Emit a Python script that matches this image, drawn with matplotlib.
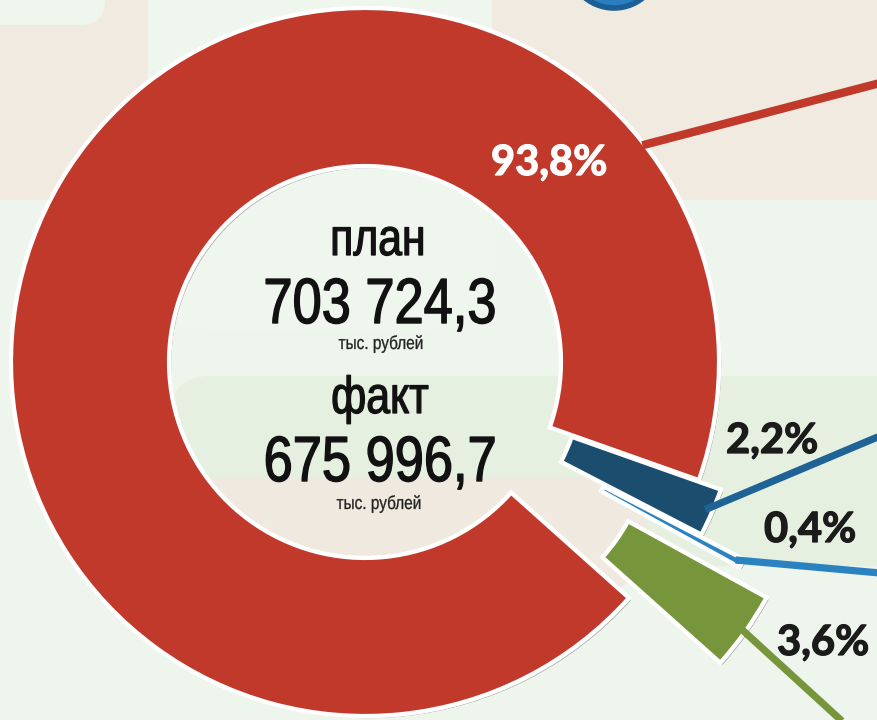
import matplotlib
matplotlib.use('Agg')
import matplotlib.pyplot as plt
import matplotlib.patches as patches
import matplotlib.patheffects as pe
from matplotlib import font_manager
from matplotlib.transforms import Affine2D
import numpy as np

# shares of the total, %
shares = [93.8, 2.2, 0.4, 3.6]
share_labels = ['93,8%', '2,2%', '0,4%', '3,6%']
colors = ['#c0392b', '#1b4d6e', '#2b82c0', '#77963c']
line_colors = ['#c0392b', '#1f6396', '#2b82c0', '#77963c']
label_colors = ['white', '#1b1b1b', '#1b1b1b', '#1b1b1b']

plan_title = 'план'
plan_value = '703 724,3'
fact_title = 'факт'
fact_value = '675 996,7'
unit = 'тыс. рублей'

W, H = 877, 720


def Y(py):
    # pixel row -> data y (y axis points up)
    return H - py


class Squeeze(pe.AbstractPathEffect):
    """Narrows the glyphs horizontally around their centre (stand-in for Arial Narrow)."""

    def __init__(self, sx, stroke=0.0):
        super().__init__()
        self.sx = sx
        self.stroke = stroke

    def draw_path(self, renderer, gc, tpath, affine, rgbFace=None):
        ext = tpath.get_extents(affine)
        cx = 0.5 * (ext.x0 + ext.x1)
        tr = affine + Affine2D().translate(-cx, 0).scale(self.sx, 1).translate(cx, 0)
        if self.stroke > 0:
            gc0 = renderer.new_gc()
            gc0.copy_properties(gc)
            gc0.set_linewidth(self.stroke)
            gc0.set_foreground(rgbFace)
            renderer.draw_path(gc0, tpath, tr, rgbFace)
            gc0.restore()
        else:
            renderer.draw_path(gc, tpath, tr, rgbFace)


installed = {f.name for f in font_manager.fontManager.ttflist}
narrow_font = next((n for n in ['Liberation Sans Narrow', 'Arial Narrow', 'DejaVu Sans Condensed']
                    if n in installed), None)
if narrow_font:
    center_family = [narrow_font, 'DejaVu Sans']
    squeeze = 1.0
else:
    center_family = ['Liberation Sans', 'DejaVu Sans']
    squeeze = 0.82

fig = plt.figure(figsize=(W / 100, H / 100), dpi=100, facecolor='#eef5ec')
ax = fig.add_axes([0, 0, 1, 1])
ax.set_facecolor('#eef5ec')


def box(x0, y0, x1, y1, r, color, z=0):
    p = patches.FancyBboxPatch((x0 + r, Y(y1) + r), (x1 - x0) - 2 * r, (y1 - y0) - 2 * r,
                               boxstyle=f'round,pad={r}', fc=color, ec='none', zorder=z)
    ax.add_patch(p)


# background shapes of the slide
box(-60, -60, 940, 200, 1, '#f1eae0', 0)
box(-120, -100, 105, 25, 25, '#eff6ee', 0.1)
box(148, -100, 492, 330, 60, '#eff6ee', 0.1)
box(170, 376, 940, 566, 40, '#e5f0e1', 0.2)
box(150, 477, 650, 600, 80, '#f0e9df', 0.3)
top_disc = patches.Ellipse((614, Y(-38)), 92, 92, fc='#2a7dbf', ec='#1b5f94', lw=4, zorder=0.5)
ax.add_patch(top_disc)

# donut
center = (365, Y(362))
R, ring = 354, 158
explode_px = [0, 24, 73, 112]
shadow = [pe.withSimplePatchShadow(offset=(1.6, -1.6), shadow_rgbFace='#3a3a3a', alpha=0.35),
          pe.Normal()]
wedges, _ = ax.pie(shares, colors=colors, radius=R, center=center, startangle=-41.8,
                   counterclock=False, explode=explode_px,
                   wedgeprops=dict(width=ring, edgecolor='white', linewidth=3, zorder=2))
for w in wedges:
    w.set_path_effects(shadow)

# leader lines (start on the wedge's outer rim, end off the right side)
line_ends = [(880, 83), (880, 436), (880, 573), (843, 722)]
red_anchor_angle = 38.0
for i, w in enumerate(wedges):
    ang = red_anchor_angle if i == 0 else 0.5 * (w.theta1 + w.theta2)
    cx, cy = w.center
    r = w.r - (2 if i == 0 else 7)
    x0 = cx + r * np.cos(np.radians(ang))
    y0 = cy + r * np.sin(np.radians(ang))
    ex, ey = line_ends[i]
    ax.plot([x0, ex], [y0, Y(ey)], color=line_colors[i], lw=6.0 if i == 0 else 5.2,
            solid_capstyle='butt', zorder=3)

# percentage labels
label_pos = [(549, 175), (772, 453), (810, 542), (823, 655)]
for txt, (px, py), c in zip(share_labels, label_pos, label_colors):
    t = ax.text(px, Y(py), txt, ha='center', va='baseline', fontsize=30, fontweight='bold',
                color=c, family=['Lato', 'DejaVu Sans'], zorder=4)
    t.set_path_effects([pe.Stroke(linewidth=0.9, foreground=c), pe.Normal()])

# centre block
center_lines = [
    (378, 255, plan_title, 37.5, '#111111', 0.9),
    (380, 323, plan_value, 46, '#111111', 1.0),
    (381, 349, unit, 13.5, '#222222', 0.2),
    (380, 413, fact_title, 37.5, '#111111', 0.9),
    (380, 481, fact_value, 46, '#111111', 1.0),
    (379, 509, unit, 13.5, '#222222', 0.2),
]
for px, py, txt, size, c, sw in center_lines:
    t = ax.text(px, Y(py), txt, ha='center', va='baseline', fontsize=size,
                color=c, family=center_family, zorder=4)
    t.set_path_effects([Squeeze(squeeze, sw)])

ax.set_xlim(0, W)
ax.set_ylim(0, H)
ax.set_aspect('equal')
ax.axis('off')

fig.savefig('out.png', dpi=100, facecolor=fig.get_facecolor())
